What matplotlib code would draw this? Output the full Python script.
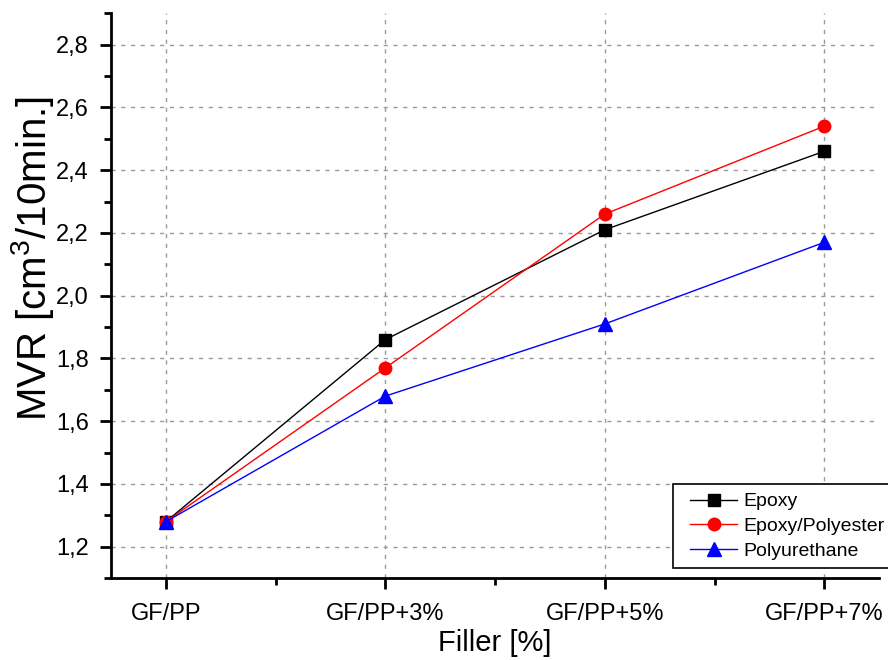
import matplotlib
matplotlib.use('Agg')
import matplotlib.pyplot as plt
from matplotlib.ticker import MultipleLocator, FuncFormatter
from matplotlib.legend_handler import HandlerLine2D
from matplotlib.lines import Line2D

plt.rcParams['font.family'] = ['Liberation Sans', 'DejaVu Sans']
plt.rcParams['mathtext.fontset'] = 'custom'
plt.rcParams['mathtext.rm'] = 'Liberation Sans'

categories = ['GF/PP', 'GF/PP+3%', 'GF/PP+5%', 'GF/PP+7%']
epoxy = [1.28, 1.86, 2.21, 2.46]
epoxy_polyester = [1.28, 1.77, 2.26, 2.54]
polyurethane = [1.28, 1.68, 1.91, 2.17]

series = [
    ('Epoxy', epoxy, 'black', 's', 8.5),
    ('Epoxy/Polyester', epoxy_polyester, 'red', 'o', 9),
    ('Polyurethane', polyurethane, 'blue', '^', 9.5),
]

fig = plt.figure(figsize=(8.88, 6.6), dpi=100)
ax = fig.add_axes([0.125, 0.124, 0.865, 0.856])

x = list(range(len(categories)))
for label, values, color, marker, ms in series:
    ax.plot(x, values, color=color, marker=marker, markersize=ms,
            linewidth=1, label=label)

ax.set_xlim(-0.25, 3.25)
ax.set_ylim(1.1, 2.9)
ax.set_xticks(x)
ax.set_xticklabels(categories)
ax.xaxis.set_minor_locator(MultipleLocator(0.5))
ax.yaxis.set_major_locator(MultipleLocator(0.2))
ax.yaxis.set_minor_locator(MultipleLocator(0.1))
ax.yaxis.set_major_formatter(FuncFormatter(lambda v, p: f'{v:.1f}'.replace('.', ',')))

ax.grid(True, which='major', linestyle=(0, (3, 4)), color='#999999', linewidth=1)
ax.set_axisbelow(True)

for side in ['top', 'right']:
    ax.spines[side].set_visible(False)
for side in ['left', 'bottom']:
    ax.spines[side].set_linewidth(2)

ax.tick_params(which='major', direction='out', length=8, width=2, labelsize=17)
ax.tick_params(axis='x', which='major', pad=10)
ax.tick_params(axis='y', which='major', pad=8)
ax.tick_params(which='minor', direction='out', length=5, width=2)

ax.set_xlabel('Filler [%]', fontsize=21, labelpad=3)
ax.set_ylabel(r'MVR [cm$^{3}$/10min.]', fontsize=29)
ax.yaxis.set_label_coords(-0.072, 0.565)

leg = ax.legend(loc='upper left', bbox_to_anchor=(673 / 888, 1 - 484 / 660),
                bbox_transform=fig.transFigure, borderaxespad=0,
                fontsize=14, fancybox=False, framealpha=1,
                edgecolor='black', handlelength=2.85, handletextpad=0.3,
                labelspacing=0.36, borderpad=0.45,
                handler_map={Line2D: HandlerLine2D(xpad=0.43)})
leg.get_frame().set_linewidth(1.2)

fig.savefig('out.png', dpi=100)
